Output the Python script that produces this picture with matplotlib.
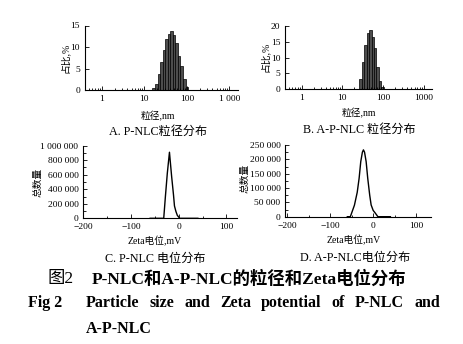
import matplotlib
matplotlib.use("Agg")
import matplotlib.pyplot as plt
from matplotlib.ticker import FixedLocator, FixedFormatter, FuncFormatter, MultipleLocator, AutoMinorLocator
import numpy as np

# particle size distributions (bin centre nm, percent)
size_a = [16.6, 19.1, 21.9, 25.1, 28.8, 33.1, 38.0, 43.7, 50.1, 57.5, 66.1, 75.9, 87.1, 100.0]
pct_a = [0.4, 1.4, 3.7, 6.4, 9.4, 11.9, 13.1, 13.7, 12.9, 10.9, 8.0, 5.5, 2.5, 0.8]
size_b = [28.2, 32.4, 37.2, 42.7, 49.0, 56.2, 64.6, 74.1, 85.1, 97.7]
pct_b = [3.2, 8.5, 14.0, 17.7, 18.6, 16.6, 12.9, 7.1, 2.6, 0.8]

# zeta potential distributions (mV, total counts)
zeta_c = [-60, -31.5, -28, -24, -19.5, -15, -11, -9, -6, -3, 2, 40]
count_c = [0, 0, 300000, 620000, 910000, 580000, 320000, 170000, 95000, 40000, 0, 0]
zeta_d = [-60, -53, -43.5, -37, -32.6, -28.8, -25, -22.6, -20, -16.3, -12.6, -8, -4.7, 0, 4.7, 11, 40]
count_d = [0, 0, 40000, 85000, 134000, 192000, 225000, 233000, 225000, 192000, 134000, 75000, 41000,
           22000, 13000, 0, 0]

log_ticks = [1, 10, 100, 1000]
log_labels_a = ["1", "10", "100", "1 000"]
log_labels_b = ["1", "10", "100", "1000"]

SERIF = ["Liberation Serif", "Noto Sans CJK SC"]
W, H = 464, 344

fig = plt.figure(figsize=(W / 100, H / 100), dpi=100)


def px_ax(l, t, r, b):
    return fig.add_axes([l / W, 1 - b / H, (r - l) / W, (b - t) / H])


def fx(x):
    return x / W


def fy(y):
    return 1 - y / H


def thousands(v, pos):
    s = f"{abs(int(round(v))):,}".replace(",", " ")
    return ("\u2212" if v < 0 else "") + s


def style(ax):
    for s in ["top", "right"]:
        ax.spines[s].set_visible(False)
    for s in ["left", "bottom"]:
        ax.spines[s].set_linewidth(0.8)
    ax.tick_params(which="both", direction="in", labelsize=6.8, width=0.6)
    ax.tick_params(which="major", length=3)
    ax.tick_params(which="minor", length=1.8)
    for lab in ax.get_xticklabels() + ax.get_yticklabels():
        lab.set_family(SERIF)


def size_panel(ax, sizes, pcts, labels, ymax, ystep):
    c = np.array(sizes)
    lo = c * 10 ** -0.03
    hi = c * 10 ** 0.03
    ax.bar(lo, pcts, width=hi - lo, align="edge", color="#4d4d4d", edgecolor="black", linewidth=0.5)
    ax.set_xscale("log")
    ax.set_xlim(0.4, 1600)
    ax.set_ylim(0, ymax)
    ax.xaxis.set_major_locator(FixedLocator(log_ticks))
    ax.xaxis.set_major_formatter(FixedFormatter(labels))
    ax.yaxis.set_major_locator(MultipleLocator(ystep))
    style(ax)


def zeta_panel(ax, x, y, xlim, ymax, ystep):
    ax.plot(x, y, color="black", lw=1.0)
    ax.set_xlim(*xlim)
    ax.set_ylim(0, ymax)
    ax.xaxis.set_major_locator(MultipleLocator(100))
    ax.xaxis.set_minor_locator(MultipleLocator(50))
    ax.yaxis.set_major_locator(MultipleLocator(ystep))
    ax.yaxis.set_minor_locator(AutoMinorLocator(2))
    ax.xaxis.set_major_formatter(FuncFormatter(thousands))
    ax.yaxis.set_major_formatter(FuncFormatter(thousands))
    style(ax)


ax_a = px_ax(85, 25.5, 238, 90)
size_panel(ax_a, size_a, pct_a, log_labels_a, 15, 5)
ax_b = px_ax(285.3, 26, 432, 89.3)
size_panel(ax_b, size_b, pct_b, log_labels_b, 20, 5)
ax_c = px_ax(83.3, 145.7, 237, 218.3)
zeta_panel(ax_c, zeta_c, count_c, (-200, 122), 1000000, 200000)
ax_d = px_ax(285.3, 145, 431.3, 216.7)
zeta_panel(ax_d, zeta_d, count_d, (-204, 135), 250000, 50000)

# axis labels and panel captions
lab = dict(family=SERIF, fontsize=7, ha="center", va="center")
fig.text(fx(65), fy(58), "占比,%", rotation=90, **lab)
fig.text(fx(265), fy(57), "占比,%", rotation=90, **lab)
fig.text(fx(38), fy(182), "总数量", rotation=90, **lab)
fig.text(fx(245), fy(178), "总数量", rotation=90, **lab)
fig.text(fx(158), fy(116), "粒径,nm", **lab)
fig.text(fx(359), fy(113.5), "粒径,nm", **lab)
fig.text(fx(155), fy(241.5), "Zeta电位,mV", **lab)
fig.text(fx(354), fy(240), "Zeta电位,mV", **lab)

cap = dict(family=SERIF, fontsize=8.7, ha="center", va="center")
fig.text(fx(158), fy(131.5), "A. P-NLC粒径分布", **cap)
fig.text(fx(359), fy(129.5), "B. A-P-NLC 粒径分布", **cap)
fig.text(fx(155), fy(258.5), "C. P-NLC 电位分布", **cap)
fig.text(fx(355), fy(257.5), "D. A-P-NLC电位分布", **cap)

# figure caption
fig.text(fx(48), fy(279), "图2", family=SERIF, fontsize=12.5, va="center")
fig.text(fx(92), fy(279), "P-NLC和A-P-NLC的粒径和Zeta电位分布",
         family=SERIF, fontsize=12.5, fontweight="bold", va="center")

bold = dict(family=SERIF, fontsize=11.5, fontweight="bold", va="center")
fig.text(fx(28), fy(303), "Fig 2", **bold)
words = ["Particle", "size", "and", "Zeta", "potential", "of", "P-NLC", "and"]
texts = [fig.text(0, fy(303), w, ha="left", **bold) for w in words]
r = fig.canvas.get_renderer()
widths = [t.get_window_extent(r).width for t in texts]
gap = ((440 - 86) - sum(widths)) / (len(words) - 1)
x = 86
for t, w in zip(texts, widths):
    t.set_x(fx(x))
    x += w + gap
fig.text(fx(86), fy(329), "A-P-NLC", **bold)

fig.savefig("out.png", dpi=100)
